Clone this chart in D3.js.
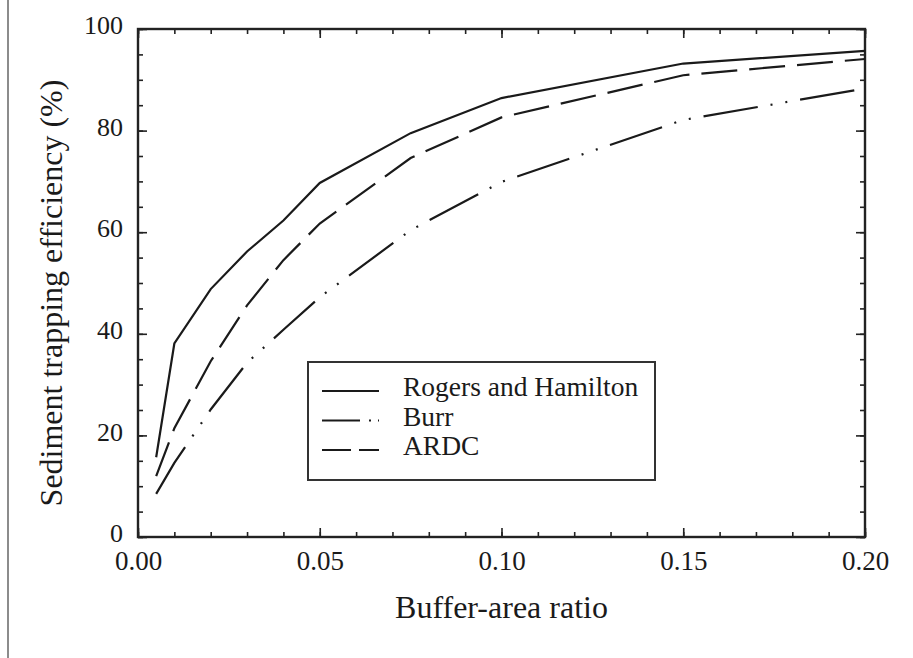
<!DOCTYPE html>
<html>
<head>
<meta charset="utf-8">
<script src="https://cdn.jsdelivr.net/npm/d3@7"></script>
<style>
  body { margin: 0; background: #ffffff; }
</style>
</head>
<body>
<div class="chart"></div>
<script>
let FRAME_WIDTH = 913;
let FRAME_HEIGHT = 658;
let MARGINS = {left: 138, right: 48, top: 29, bottom: 121};
let FONT = "'Liberation Serif', 'Times New Roman', Times, serif";

// buffer-area ratio where the curves were read
let X_VALUES = [0.005, 0.01, 0.02, 0.03, 0.04, 0.05, 0.075, 0.10, 0.15, 0.20];
// trapping efficiency (%) per method
let ROGERS = [15.7, 38.1, 48.8, 56.2, 62.3, 69.7, 79.5, 86.4, 93.2, 95.7];
let BURR   = [8.5, 14.6, 25.1, 34.3, 40.8, 47.2, 60.4, 69.9, 82.1, 88.3];
let ARDC   = [12.0, 21.4, 34.6, 45.6, 54.5, 61.7, 74.6, 82.6, 90.9, 94.1];

let SERIES_NAMES = ["Rogers and Hamilton", "Burr", "ARDC"];
let X_MAJOR = [0, 0.05, 0.10, 0.15, 0.20];
let X_MINOR = d3.range(0, 21).map(d => d / 100);
let Y_MAJOR = [0, 20, 40, 60, 80, 100];
let Y_MINOR = d3.range(0, 101, 5);

let FRAME = d3.select(".chart")
              .append("svg")
              .attr("width", FRAME_WIDTH)
              .attr("height", FRAME_HEIGHT);

// grey scan edge on the left
FRAME.append("line")
     .attr("x1", 8).attr("x2", 8)
     .attr("y1", 0).attr("y2", FRAME_HEIGHT)
     .attr("stroke", "#8c8c8c").attr("stroke-width", 2);

const X_SCALE = d3.scaleLinear()
                  .domain([0, 0.2])
                  .range([MARGINS.left, FRAME_WIDTH - MARGINS.right]);

const Y_SCALE = d3.scaleLinear()
                  .domain([0, 100])
                  .range([FRAME_HEIGHT - MARGINS.bottom, MARGINS.top]);

let X0 = X_SCALE.range()[0], X1 = X_SCALE.range()[1];
let Y0 = Y_SCALE.range()[0], Y1 = Y_SCALE.range()[1];

// ticks pointing inward on all four sides
function tickAxis(axis, vals, size, tr) {
    let g = FRAME.append("g")
                 .attr("transform", tr)
                 .call(axis.tickValues(vals).tickSize(size).tickFormat(""));
    g.select(".domain").remove();
    g.selectAll("line").attr("stroke", "#222").attr("stroke-width", 1.6);
    return g;
}
tickAxis(d3.axisBottom(X_SCALE), X_MINOR, -5, "translate(0," + Y0 + ")");
tickAxis(d3.axisBottom(X_SCALE), X_MAJOR, -9, "translate(0," + Y0 + ")");
tickAxis(d3.axisTop(X_SCALE), X_MINOR, -5, "translate(0," + Y1 + ")");
tickAxis(d3.axisTop(X_SCALE), X_MAJOR, -9, "translate(0," + Y1 + ")");
tickAxis(d3.axisLeft(Y_SCALE), Y_MINOR, -5, "translate(" + X0 + ",0)");
tickAxis(d3.axisLeft(Y_SCALE), Y_MAJOR, -9, "translate(" + X0 + ",0)");
tickAxis(d3.axisRight(Y_SCALE), Y_MINOR, -5, "translate(" + X1 + ",0)");
tickAxis(d3.axisRight(Y_SCALE), Y_MAJOR, -9, "translate(" + X1 + ",0)");

// tick labels
let xLab = FRAME.append("g")
    .attr("transform", "translate(0," + Y0 + ")")
    .call(d3.axisBottom(X_SCALE).tickValues(X_MAJOR).tickSize(0).tickPadding(14)
          .tickFormat(d3.format(".2f")));
xLab.select(".domain").remove();
xLab.attr("font-family", FONT).attr("font-size", 27);
xLab.selectAll("text").attr("fill", "#1a1a1a");

let yLab = FRAME.append("g")
    .attr("transform", "translate(" + X0 + ",0)")
    .call(d3.axisLeft(Y_SCALE).tickValues(Y_MAJOR).tickSize(0).tickPadding(15));
yLab.select(".domain").remove();
yLab.attr("font-family", FONT).attr("font-size", 26);
yLab.selectAll("text").attr("fill", "#1a1a1a").attr("dy", "0.18em");

// plot frame
FRAME.append("rect")
     .attr("x", X0).attr("y", Y1)
     .attr("width", X1 - X0).attr("height", Y0 - Y1)
     .attr("fill", "none").attr("stroke", "#222").attr("stroke-width", 2.4);

// curves
let DASHES = ["none", "55,13,2,13,2,13", "36,12"];
let lineGen = d3.line()
                .x((d, i) => X_SCALE(X_VALUES[i]))
                .y(d => Y_SCALE(d));

[ROGERS, BURR, ARDC].forEach((vals, i) => {
    FRAME.append("path")
         .datum(vals)
         .attr("d", lineGen)
         .attr("fill", "none")
         .attr("stroke", "#1a1a1a")
         .attr("stroke-width", 2.2)
         .attr("stroke-dasharray", DASHES[i]);
});

// legend
let LEG = FRAME.append("g").attr("transform", "translate(308,362)");
LEG.append("rect")
   .attr("width", 347).attr("height", 118)
   .attr("fill", "#ffffff").attr("stroke", "#333").attr("stroke-width", 2);

let LEG_DASHES = ["none", "38,9,2,7,2,100", "29,8,21"];
SERIES_NAMES.forEach((name, i) => {
    let y = 29 + i * 29.5;
    LEG.append("line")
       .attr("x1", 14).attr("x2", 71)
       .attr("y1", y).attr("y2", y)
       .attr("stroke", "#1a1a1a").attr("stroke-width", 2.2)
       .attr("stroke-dasharray", LEG_DASHES[i]);
    LEG.append("text")
       .attr("x", 95).attr("y", y + 5)
       .attr("font-family", FONT)
       .attr("font-size", 27.5)
       .attr("fill", "#1a1a1a")
       .text(name);
});

// axis titles
FRAME.append("text")
     .attr("x", (X0 + X1) / 2).attr("y", 618)
     .attr("text-anchor", "middle")
     .attr("font-family", FONT)
     .attr("font-size", 32)
     .attr("fill", "#1a1a1a")
     .text("Buffer-area ratio");

FRAME.append("text")
     .attr("transform", "translate(62," + 293 + ") rotate(-90)")
     .attr("text-anchor", "middle")
     .attr("font-family", FONT)
     .attr("font-size", 32)
     .attr("fill", "#1a1a1a")
     .text("Sediment trapping efficiency (%)");
</script>
</body>
</html>
